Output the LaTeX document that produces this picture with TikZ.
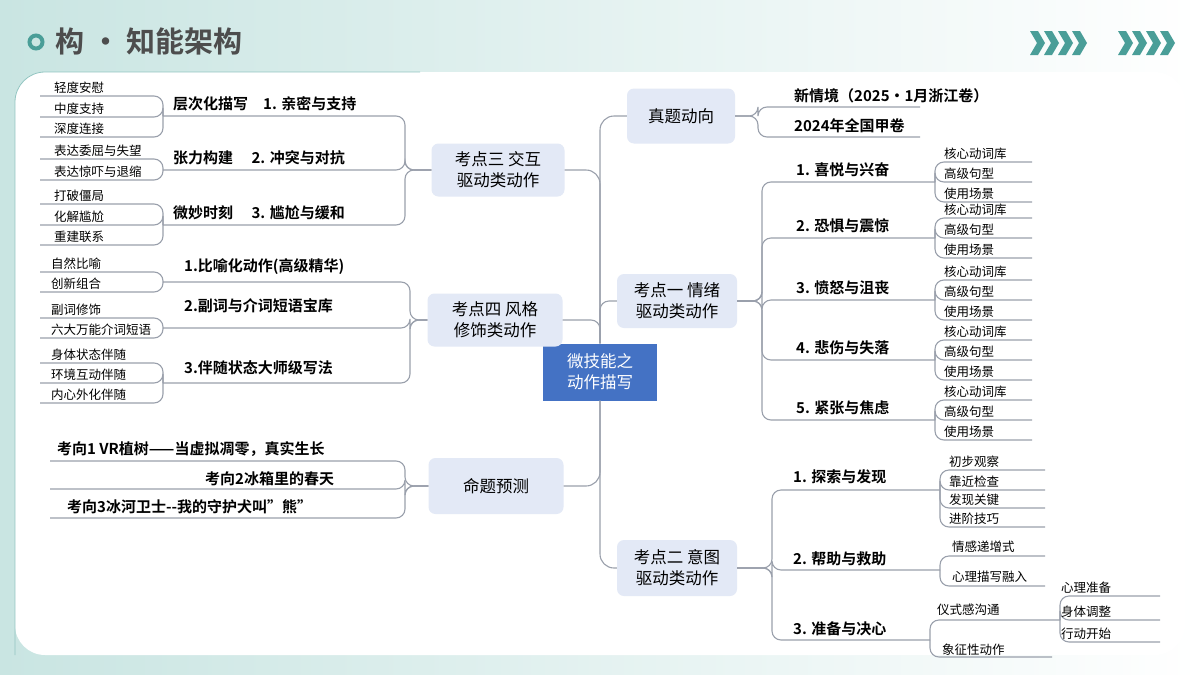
\documentclass[tikz,border=0pt]{standalone}
\usepackage{fontspec}
\setmainfont{Noto Sans CJK SC}[BoldFont={Noto Sans CJK SC Bold}]
\definecolor{nodebg}{HTML}{E3E9F6}
\definecolor{linkgray}{HTML}{9AA0AC}
\definecolor{ringteal}{HTML}{4A9E98}
\definecolor{bgteal}{HTML}{C9E5E2}
\definecolor{titlegray}{HTML}{4D4D4D}
\definecolor{centerblue}{HTML}{4472C4}
\tikzset{
    link/.style={draw=linkgray, line width=1.1pt, rounded corners=9pt},
    mainbox/.style={fill=nodebg, rounded corners=7pt, align=center, inner sep=0pt,
        font=\fontsize{16.5}{21}\selectfont},
    branch/.style={anchor=south west, inner sep=1pt, font=\bfseries\fontsize{15}{16}\selectfont},
    leaf/.style={anchor=south west, inner sep=1pt, font=\fontsize{12.5}{14}\selectfont},
}
\begin{document}
\begin{tikzpicture}[x=1pt, y=-1pt]

    % background and panel
    \shade[left color=bgteal, right color=white] (0,0) rectangle (1200,675);
    \useasboundingbox (0,0) rectangle (1200,675);
    \fill[white, rounded corners=30pt] (15,72) rectangle (1185,655);
    \draw[ringteal!60, line width=0.8pt, rounded corners=30pt] (15,655) -- (15,72) -- (420,72);

    % header
    \draw[ringteal, line width=4pt] (36,42) circle (6.5);
    \node[anchor=west, text=titlegray, font=\bfseries\fontsize{29}{32}\selectfont] (title) at (52,41) {构 · 知能架构};
    \foreach \gx in {1030,1118}
        \foreach \i in {0,1,2,3}
            \fill[ringteal] ({\gx+\i*14},31) -- ++(8,0) -- ++(7,12) -- ++(-7,12) -- ++(-8,0) -- ++(7,-12) -- cycle;

    % centre and first level
    \node[fill=centerblue, text=white, minimum width=114, minimum height=57, align=center,
          font=\fontsize{16.5}{21}\selectfont] (c) at (600,372) {微技能之\\动作描写};
    \node[mainbox, minimum width=108, minimum height=55] (zt) at (681,116) {真题动向};
    \node[mainbox, minimum width=133, minimum height=53] (k3) at (498,170) {考点三 交互\\驱动类动作};
    \node[mainbox, minimum width=135, minimum height=53] (k4) at (495,320) {考点四 风格\\修饰类动作};
    \node[mainbox, minimum width=135, minimum height=56] (mt) at (496,486) {命题预测};
    \node[mainbox, minimum width=120, minimum height=54] (k1) at (677,301) {考点一 情绪\\驱动类动作};
    \node[mainbox, minimum width=120, minimum height=56] (k2) at (677,568) {考点二 意图\\驱动类动作};

    \draw[link, rounded corners=14pt] (zt.west) -| (c.north);
    \draw[link, rounded corners=14pt] (k3.east) -| (c.north);
    \draw[link] (k4.east) -| (c.north);
    \draw[link] (k1.west) -| (c.north);
    \draw[link, rounded corners=14pt] (mt.east) -| (c.south);
    \draw[link, rounded corners=14pt] (k2.west) -| (c.south);

    % 真题动向
    \draw[link] (zt.east) -- (758,116) |- (920,107);
    \draw[link] (zt.east) -- (758,116) |- (920,137);
    \node[branch] (zt1) at (793,104) {新情境（2025·1月浙江卷）};
    \node[branch] (zt2) at (793,134) {2024年全国甲卷};

    % 考点一
    \foreach \n/\t/\yu in {1/{1. 喜悦与兴奋}/182, 2/{2. 恐惧与震惊}/238, 3/{3. 愤怒与沮丧}/300,
                           4/{4. 悲伤与失落}/360, 5/{5. 紧张与焦虑}/420}{
        \draw[link] (k1.east) -- (762,301) |- (935,\yu);
        \node[branch] (e\n) at (795,{\yu-4}) {\t};
        \foreach \d/\s in {-20/核心动词库, 0/高级句型, 20/使用场景}{
            \draw[link] (935,\yu) |- (1032,{\yu+\d});
            \node[leaf] (e\n\d) at (943,{\yu+\d-1}) {\s};
        }
    }

    % 考点二
    \draw[link] (k2.east) -- (772,568) |- (940,490);
    \draw[link] (k2.east) -- (772,568) |- (940,570);
    \draw[link] (k2.east) -- (772,568) |- (930,640);
    \node[branch] (i1) at (792,485) {1. 探索与发现};
    \node[branch] (i2) at (792,567) {2. 帮助与救助};
    \node[branch] (i3) at (792,637) {3. 准备与决心};
    \foreach \y/\s in {470/初步观察, 490/靠近检查, 508/发现关键, 527/进阶技巧}{
        \draw[link] (940,490) |- (1045,\y);
        \node[leaf] (i1\y) at (948,{\y-1}) {\s};
    }
    \foreach \y/\s in {556/情感递增式, 586/心理描写融入}{
        \draw[link] (940,570) |- (1045,\y);
        \node[leaf] (i2\y) at (951,{\y-2}) {\s};
    }
    \draw[link] (930,640) |- (1060,620);
    \draw[link] (930,640) |- (1052,657);
    \node[leaf] (i3a) at (936,617) {仪式感沟通};
    \node[leaf] (i3b) at (941,657) {象征性动作};
    \foreach \y/\s in {596/心理准备, 620/身体调整, 642/行动开始}{
        \draw[link] (1060,620) |- (1160,\y);
        \node[leaf] (i3\y) at (1060,{\y-1}) {\s};
    }

    % 考点三
    \draw[link] (k3.west) -- (405,170) |- (163,116);
    \draw[link] (k3.west) -- (405,170) |- (163,170);
    \draw[link] (k3.west) -- (405,170) |- (163,225);
    \node[branch] (j1) at (172,112) {层次化描写\quad 1. 亲密与支持};
    \node[branch] (j2) at (172,166) {张力构建\quad\ 2. 冲突与对抗};
    \node[branch] (j3) at (172,221) {微妙时刻\quad\ 3. 尴尬与缓和};
    \foreach \yp/\y/\s in {116/96/轻度安慰, 116/117/中度支持, 116/137/深度连接,
                           170/159/表达委屈与失望, 170/180/表达惊吓与退缩,
                           225/204/打破僵局, 225/225/化解尴尬, 225/245/重建联系}{
        \draw[link] (163,\yp) |- (40,\y);
        \node[leaf] (j\y) at (53,{\y-1}) {\s};
    }

    % 考点四
    \draw[link] (k4.west) -- (410,320) |- (163,282);
    \draw[link] (k4.west) -- (410,320) |- (163,328);
    \draw[link] (k4.west) -- (410,320) |- (163,383);
    \node[branch] (s1) at (183,276) {1.比喻化动作(高级精华)};
    \node[branch] (s2) at (183,314) {2.副词与介词短语宝库};
    \node[branch] (s3) at (183,376) {3.伴随状态大师级写法};
    \foreach \yp/\y/\s in {282/272/自然比喻, 282/292/创新组合,
                           328/318/副词修饰, 328/338/六大万能介词短语,
                           383/363/身体状态伴随, 383/383/环境互动伴随, 383/403/内心外化伴随}{
        \draw[link] (163,\yp) |- (40,\y);
        \node[leaf] (s\y) at (50,{\y-1}) {\s};
    }

    % 命题预测
    \draw[link] (mt.west) -- (405,486) |- (50,461);
    \draw[link] (mt.west) -- (405,486) |- (50,489);
    \draw[link] (mt.west) -- (405,486) |- (50,518);
    \node[branch] (p1) at (56,458) {考向1 VR植树——当虚拟凋零，真实生长};
    \node[branch] (p2) at (204,487) {考向2冰箱里的春天};
    \node[branch] (p3) at (66,515) {考向3冰河卫士{-}{-}我的守护犬叫\symbol{34}熊”};
\end{tikzpicture}
\end{document}
